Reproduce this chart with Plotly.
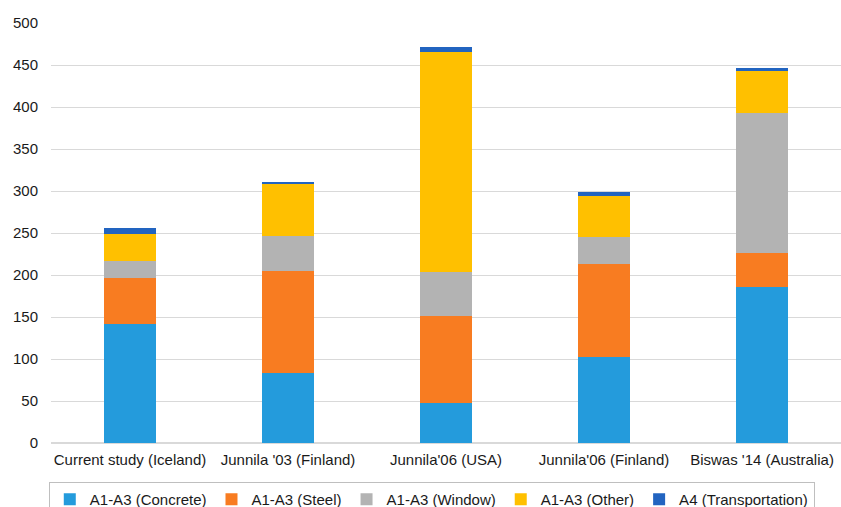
import plotly.graph_objects as go

categories = ["Current study (Iceland)", "Junnila '03 (Finland)", "Junnila'06 (USA)",
              "Junnila'06 (Finland)", "Biswas '14 (Australia)"]
concrete = [142, 83, 48, 102, 186]
steel = [54, 122, 103, 111, 40]
window = [21, 42, 53, 32, 167]
other = [32, 62, 262, 49, 50]
transport = [7, 2, 5, 5, 4]

series = [
    ("A1-A3 (Concrete)", concrete, "#249BDC"),
    ("A1-A3 (Steel)", steel, "#F87C21"),
    ("A1-A3 (Window)", window, "#B3B3B3"),
    ("A1-A3 (Other)", other, "#FFC000"),
    ("A4 (Transportation)", transport, "#2264C0"),
]

fig = go.Figure()
for name, vals, color in series:
    fig.add_trace(go.Bar(x=categories, y=vals, name=name, marker_color=color,
                         marker_line_width=0))

fig.update_layout(
    barmode="stack",
    bargap=0.67,
    width=841, height=507,
    margin=dict(l=51, r=0, t=23, b=64, autoexpand=False),
    plot_bgcolor="white", paper_bgcolor="white",
    font=dict(family="Liberation Sans, Arial, sans-serif", size=15, color="#1a1a1a"),
    xaxis=dict(showgrid=False, showline=False, ticks="", tickfont=dict(size=15),
               ticklabelstandoff=6, automargin=False),
    yaxis=dict(range=[0, 500], dtick=50, showgrid=True, gridcolor="#D9D9D9",
               gridwidth=1, zeroline=True, zerolinecolor="#D9D9D9", showline=False,
               ticks="", tickfont=dict(size=15), ticklabelstandoff=12, automargin=False),
    legend=dict(orientation="h", x=0.482, xanchor="center",
                yref="container", y=(507 - 482) / 507, yanchor="top",
                bordercolor="#BFBFBF", borderwidth=1, font=dict(size=15),
                traceorder="normal", itemwidth=30),
    showlegend=True,
)

fig.write_html("out.html")
